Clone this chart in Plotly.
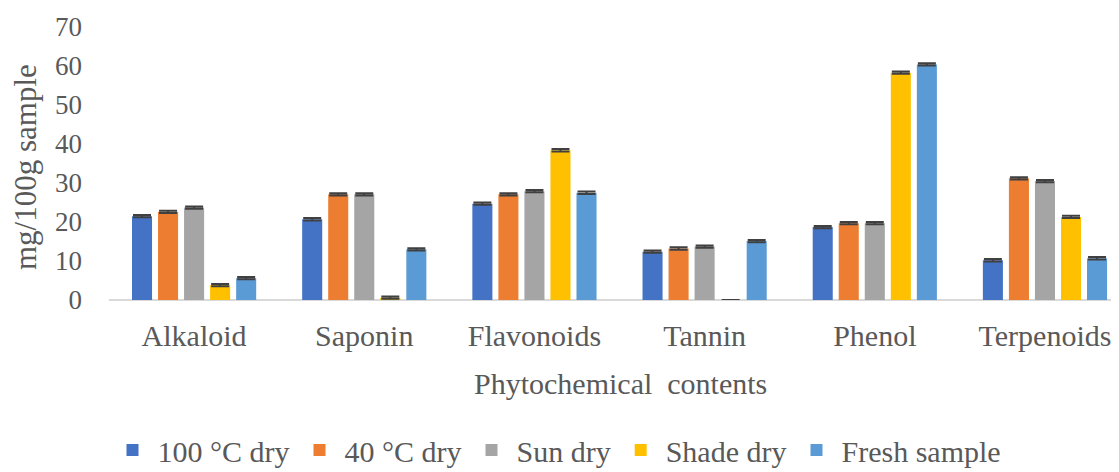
import plotly.graph_objects as go

categories = ["Alkaloid", "Saponin", "Flavonoids", "Tannin", "Phenol", "Terpenoids"]
series_names = ["100 °C dry", "40 °C dry", "Sun dry", "Shade dry", "Fresh sample"]
dry_100 = [21.5, 20.7, 24.7, 12.4, 18.7, 10.2]
dry_40 = [22.6, 27.1, 27.1, 13.2, 19.7, 31.2]
sun_dry = [23.7, 27.1, 27.9, 13.7, 19.7, 30.5]
shade_dry = [3.8, 0.6, 38.4, 0.0, 58.3, 21.3]
fresh = [5.6, 13.0, 27.5, 15.1, 60.4, 10.7]

err_100 = [0.3, 0.3, 0.3, 0.3, 0.3, 0.3]
err_40 = [0.3, 0.3, 0.3, 0.3, 0.3, 0.3]
err_sun = [0.3, 0.3, 0.3, 0.3, 0.3, 0.3]
err_shade = [0.3, 0.3, 0.3, 0.0, 0.3, 0.3]
err_fresh = [0.3, 0.3, 0.3, 0.3, 0.3, 0.3]

colors = ["#4472C4", "#ED7D31", "#A5A5A5", "#FFC000", "#5B9BD5"]
all_series = [dry_100, dry_40, sun_dry, shade_dry, fresh]
all_errors = [err_100, err_40, err_sun, err_shade, err_fresh]

font_family = "Liberation Serif"
text_color = "#595959"

fig = go.Figure()
for name, vals, errs, col in zip(series_names, all_series, all_errors, colors):
    fig.add_trace(go.Bar(
        x=categories, y=vals, name=name,
        marker=dict(color=col, line=dict(width=0)),
        error_y=dict(type="data", array=errs, color="#404040", thickness=2, width=9, visible=True),
    ))

# the page body adds an 8px offset, so the figure is sized to fit the window
FW, FH = 1111, 464
L, T, B = 101, 19, 172
W = FW - L
H = FH - T - B

fig.update_layout(
    width=FW, height=FH,
    margin=dict(l=L, r=0, t=T, b=B),
    paper_bgcolor="white", plot_bgcolor="white",
    barmode="group", bargap=0.235, bargroupgap=0.23,
    font=dict(family=font_family, color=text_color, size=29),
    showlegend=True,
    legend=dict(orientation="h", xref="container", yref="container",
                x=549 / FW, xanchor="center", y=(FH - 442) / FH, yanchor="middle",
                font=dict(size=30, family=font_family, color=text_color),
                itemwidth=40, traceorder="normal"),
    xaxis=dict(
        range=[-0.5, 5.435], automargin=False,
        showgrid=False, showline=False, zeroline=False, ticks="",
        tickfont=dict(size=30), ticklabelstandoff=15,
    ),
    yaxis=dict(
        range=[0, 70], dtick=10, showgrid=False, showline=False, automargin=False,
        zeroline=True, zerolinecolor="#D9D9D9", zerolinewidth=1.5,
        ticks="", tickfont=dict(size=27), ticklabelstandoff=26,
    ),
    annotations=[
        dict(text="mg/100g sample", textangle=-90, xref="paper", yref="paper",
             x=(17 - L) / W, y=(292 - 159) / H, xanchor="center", yanchor="middle",
             showarrow=False, font=dict(size=31, family=font_family, color=text_color)),
        dict(text="Phytochemical  contents", xref="paper", yref="paper",
             x=(612 - L) / W, y=-(375 - 292) / H, xanchor="center", yanchor="middle",
             showarrow=False, font=dict(size=30, family=font_family, color=text_color)),
    ],
)

fig.write_html("out.html")
